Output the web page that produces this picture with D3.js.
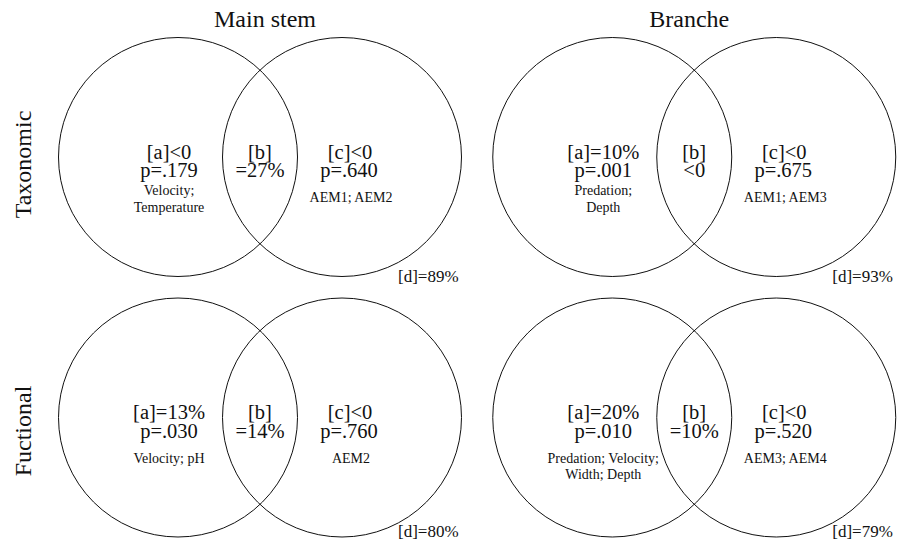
<!DOCTYPE html>
<html>
<head>
<meta charset="utf-8">
<script src="https://cdn.jsdelivr.net/npm/d3@7"></script>
<style>
  body { margin: 0; background: #fff; }
  svg text { font-family: "Liberation Serif", "Times New Roman", serif; fill: #111; }
</style>
</head>
<body>
<svg id="venn_svg" width="913" height="544"></svg>
<script>
// columns / rows of the panel grid
var columns = ["Main stem", "Branche"];
var rows = ["Taxonomic", "Fuctional"];

// one entry per panel, row-major: [Taxo/Main, Taxo/Branche, Func/Main, Func/Branche]
var fractionA = ["[a]<0", "[a]=10%", "[a]=13%", "[a]=20%"];
var pValueA   = ["p=.179", "p=.001", "p=.030", "p=.010"];
var varsA     = [["Velocity;", "Temperature"], ["Predation;", "Depth"], ["Velocity; pH"], ["Predation; Velocity;", "Width; Depth"]];
var fractionB = ["=27%", "<0", "=14%", "=10%"];
var fractionC = ["[c]<0", "[c]<0", "[c]<0", "[c]<0"];
var pValueC   = ["p=.640", "p=.675", "p=.760", "p=.520"];
var varsC     = [["AEM1; AEM2"], ["AEM1; AEM3"], ["AEM2"], ["AEM3; AEM4"]];
var fractionD = ["[d]=89%", "[d]=93%", "[d]=80%", "[d]=79%"];

var svg = d3.select("#venn_svg");

var xScale = d3.scalePoint().domain(columns).range([260, 694.25]);
var yScale = d3.scalePoint().domain(rows).range([157, 417.5]);
var radius = 119.5;
var halfGap = 82;
var bigFont = "20.5px";
// first line of the small variable list, below the circle centre
var noteDy = [38, 38, 45, 45];

var panels = [];
rows.forEach(function(r, ri) {
    columns.forEach(function(c, ci) {
        var i = ri * columns.length + ci;
        panels.push({ row: r, col: c, i: i });
    });
});

//Column titles
svg.selectAll(".colTitle")
    .data(columns)
    .enter()
    .append("text")
    .attr("class", "colTitle")
    .attr("x", (d, i) => xScale(d) + (i === 0 ? 5 : -5))
    .attr("y", 27)
    .attr("text-anchor", "middle")
    .style("font-size", "24px")
    .text(d => d);

//Row titles
svg.selectAll(".rowTitle")
    .data(rows)
    .enter()
    .append("text")
    .attr("class", "rowTitle")
    .attr("transform", (d, i) => `translate(31, ${yScale(d) + (i === 0 ? 7.5 : 13.5)}) rotate(-90)`)
    .attr("text-anchor", "middle")
    .style("font-size", "24px")
    .text(d => d);

var g = svg.selectAll(".panel")
    .data(panels)
    .enter()
    .append("g")
    .attr("class", "panel")
    .attr("transform", d => `translate(${xScale(d.col)}, ${yScale(d.row)})`);

// the two circles
g.selectAll("circle")
    .data([-halfGap, halfGap])
    .enter()
    .append("circle")
    .attr("cx", d => d)
    .attr("cy", 0)
    .attr("r", radius)
    .attr("fill", "none")
    .attr("stroke", "#111")
    .attr("stroke-width", 1);

// [a] fraction
g.append("text").attr("x", -halfGap - 9).attr("y", 1.5)
    .attr("text-anchor", "middle").style("font-size", bigFont)
    .text(d => fractionA[d.i]);
g.append("text").attr("x", -halfGap - 9).attr("y", 20)
    .attr("text-anchor", "middle").style("font-size", bigFont)
    .text(d => pValueA[d.i]);
g.each(function(d) {
    d3.select(this).selectAll(".noteA")
        .data(varsA[d.i])
        .enter()
        .append("text")
        .attr("class", "noteA")
        .attr("x", -halfGap - 9)
        .attr("y", (t, k) => noteDy[d.i] + k * 16.5)
        .attr("text-anchor", "middle")
        .style("font-size", "14px")
        .text(t => t);
});

// [b] shared fraction
g.append("text").attr("x", 0).attr("y", 1.5)
    .attr("text-anchor", "middle").style("font-size", bigFont)
    .text("[b]");
g.append("text").attr("x", 0).attr("y", 20)
    .attr("text-anchor", "middle").style("font-size", bigFont)
    .text(d => fractionB[d.i]);

// [c] fraction
g.append("text").attr("x", halfGap + 8).attr("y", 1.5)
    .attr("text-anchor", "middle").style("font-size", bigFont)
    .text(d => fractionC[d.i]);
g.append("text").attr("x", halfGap + 7).attr("y", 20)
    .attr("text-anchor", "middle").style("font-size", bigFont)
    .text(d => pValueC[d.i]);
g.each(function(d) {
    d3.select(this).selectAll(".noteC")
        .data(varsC[d.i])
        .enter()
        .append("text")
        .attr("class", "noteC")
        .attr("x", halfGap + 9)
        .attr("y", (t, k) => 45 + k * 16.5)
        .attr("text-anchor", "middle")
        .style("font-size", "14px")
        .text(t => t);
});

// [d] residual
g.append("text")
    .attr("x", halfGap + 56)
    .attr("y", d => d.row === rows[0] ? 125 : 119)
    .style("font-size", "17px")
    .text(d => fractionD[d.i]);
</script>
</body>
</html>
